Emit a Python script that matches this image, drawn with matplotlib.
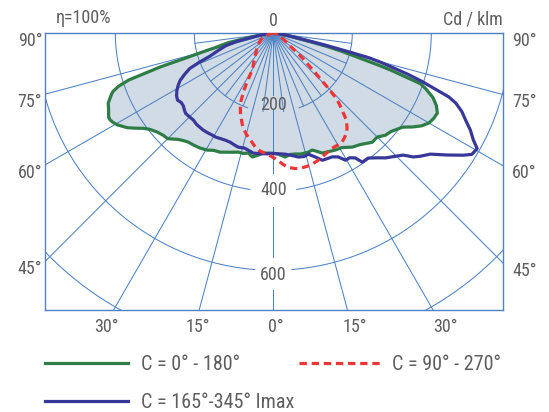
import numpy as np
import matplotlib
matplotlib.use("Agg")
import matplotlib.pyplot as plt
from matplotlib import font_manager

# gamma angle (deg, negative = left half) and luminous intensity (cd/klm)
c0_gamma = [-90, -85, -80, -78, -76, -75, -74, -73.3, -72, -71,
            -70, -69, -67, -65, -63, -62, -61, -59.5, -57, -55,
            -53.8, -52, -49.5, -47, -45, -42, -40, -38, -35.5, -32.4,
            -29.4, -27, -24, -22, -19, -16.4, -14, -11.8, -9.6, -7,
            -5, -3, 0, 2, 5.5, 8, 10.3, 13, 16.4, 18.4,
            20, 22.2, 25, 27.9, 31, 34.7, 38, 42.2, 45, 47.7,
            50, 52, 54, 56, 58, 60, 62, 64, 66, 68,
            70, 71, 72.5, 73, 74, 75, 76, 77, 80, 85, 90]
c0_cd = [0, 15, 50, 115, 150, 185, 235, 299, 385, 415,
         432, 440, 454, 460, 468, 468, 465, 458, 440, 420,
         408, 396, 386, 380, 378, 362, 355, 350, 348, 345,
         340, 333, 330, 325, 319, 314, 314, 310, 318, 311,
         305, 304, 304, 306, 315, 310, 311, 314, 314, 312,
         318, 328, 331, 335, 338, 351, 358, 373, 372, 384,
         388, 396, 405, 425, 443, 455, 460, 462, 452, 436,
         410, 394, 311, 280, 220, 180, 140, 100, 35, 8, 0]

c165_gamma = [-90, -85, -80, -77, -75, -72, -70, -68.5, -67, -65,
              -63, -61, -59, -57, -55, -53, -51, -49, -47.5, -45,
              -42.6, -40, -36, -33, -31, -29, -27, -24, -21.5, -19,
              -17, -14, -11, -9.5, -6, -3, 0, 3, 5.7, 8,
              11.4, 14, 16.1, 18.7, 21.1, 23.7, 25.5, 27.7, 29.6, 31.5,
              33.3, 34.6, 37.2, 40, 42, 44, 46.8, 48.5, 50, 52.4,
              55, 57.3, 58.6, 60.5, 61.9, 63.8, 65.5, 67.4, 69, 70,
              72, 73, 74, 74.8, 75.5, 76, 77, 80, 85, 90]
c165_cd = [0, 10, 40, 95, 125, 150, 170, 200, 230, 248,
           265, 276, 285, 292, 296, 292, 293, 298, 301, 300,
           299, 302, 303, 302, 301, 301, 299, 297, 297, 300,
           302, 300, 305, 308, 307, 306, 305, 306, 308, 312,
           320, 322, 319, 331, 345, 346, 347, 354, 370, 370,
           378, 397, 397, 412, 425, 435, 451, 473, 485, 502,
           538, 572, 589, 593, 574, 556, 536, 517, 495, 473,
           395, 355, 310, 281, 250, 200, 130, 40, 10, 0]

c90_gamma = [-90, -80, -70, -63, -55, -50, -45, -40, -36, -33,
             -30, -29, -28, -27, -25.5, -24, -22, -20, -18, -15,
             -12, -9, -7, -4, -2, 0, 2, 4, 6, 9,
             11, 14, 16.5, 19, 21.5, 24, 27, 30, 32, 34,
             36.5, 38, 40, 41.5, 43, 44, 45, 46, 47, 48.5,
             50.5, 52, 55, 60, 70, 80, 90]
c90_cd = [0, 5, 20, 35, 44, 52, 60, 70, 80, 92,
          105, 120, 145, 165, 190, 205, 222, 235, 250, 265,
          277, 292, 299, 305, 309, 315, 322, 332, 341, 347,
          349, 348, 346, 342, 337, 332, 327, 327, 327, 321,
          313, 303, 288, 265, 245, 228, 193, 160, 135, 110,
          80, 55, 40, 25, 10, 4, 0]

rings = [200, 400, 600, 800]
ring_labels = [200, 400, 600]
side_ticks = [90, 75, 60, 45]
bottom_ticks = [-30, -15, 0, 15, 30]
legend_labels = ['C = 0° - 180°', 'C = 90° - 270°', 'C = 165°-345° Imax']

GREEN = '#2e7d46'
BLUE = '#38389a'
RED = '#ef3535'
GRID = '#4f82c4'
FILL = '#d0dbe5'
TXT = '#5e5e5e'

installed = {f.name for f in font_manager.fontManager.ttflist}
font = next((f for f in ['Liberation Sans Narrow', 'Roboto Condensed', 'Roboto', 'Open Sans']
             if f in installed), 'DejaVu Sans')
plt.rcParams['font.family'] = [font, 'DejaVu Sans']
FS = 13 if ('Narrow' in font or 'Condensed' in font) else 11.5
FS_LEG = FS + 1.5


def polar_xy(gamma, cd):
    g = np.radians(np.asarray(gamma, dtype=float))
    r = np.asarray(cd, dtype=float)
    return r * np.sin(g), -r * np.cos(g)


W, H = 549, 412
fig = plt.figure(figsize=(W / 100, H / 100), dpi=100)
ax = fig.add_axes([45 / W, 1 - 310 / H, 458 / W, 277 / H])
XL, XR, YB = -578, 581.5, -700.5
ax.set_xlim(XL, XR)
ax.set_ylim(YB, 0)
ax.set_xticks([])
ax.set_yticks([])
for s in ax.spines.values():
    s.set_color(GRID)
    s.set_linewidth(1.0)

# polar grid
grid_kw = dict(color=GRID, lw=0.75, zorder=2)
ring_gap = {200: 19, 400: 8.5, 600: 4.5}
for ring in rings:
    gap = ring_gap.get(ring, 0)
    for lo, hi in [(-90, -gap), (gap, 90)]:
        x, y = polar_xy(np.linspace(lo, hi, 200), np.full(200, ring))
        ax.plot(x, y, **grid_kw)

for a in np.arange(-90, 90.1, 7.5):
    if a % 15:
        spans = [(0, 200)]
    elif a == 0:
        spans = [(0, 156), (195, 355), (440, 566), (650, 1000)]
    else:
        spans = [(0, 1000)]
    for r0, r1 in spans:
        x, y = polar_xy([a, a], [r0, r1])
        ax.plot(x, y, **grid_kw)

# curves
x0, y0 = polar_xy(c0_gamma, c0_cd)
ax.fill(x0, y0, color=FILL, lw=0, zorder=1)
ax.plot(x0, y0, color=GREEN, lw=2.3, zorder=3, solid_joinstyle='round')
x1, y1 = polar_xy(c165_gamma, c165_cd)
ax.plot(x1, y1, color=BLUE, lw=2.3, zorder=4, solid_joinstyle='round')
x2, y2 = polar_xy(c90_gamma, c90_cd)
ax.plot(x2, y2, color=RED, lw=2.3, dashes=(2.3, 1.5), zorder=5)

txt = dict(color=TXT, fontsize=FS, textcoords='offset points', annotation_clip=False)

lab_shift = {200: 5, 400: 1, 600: -3.6}
for v in ring_labels:
    ax.annotate(str(v), (0, -v), xytext=(0, lab_shift[v]), ha='center', va='center', **txt)

for g in side_ticks:
    t = np.tan(np.radians(g))
    ax.annotate(f'{g}°', (XL, XL / t), xytext=(-2, -5.5), ha='right', va='center', **txt)
    ax.annotate(f'{g}°', (XR, -XR / t), xytext=(6.5, -5.5), ha='left', va='center', **txt)

YT = -743.5
for g in bottom_ticks:
    ax.annotate(f'{abs(g)}°', (-YT * np.tan(np.radians(g)), YT), xytext=(2, 0),
                ha='center', va='center', **txt)

ax.annotate('0', (0, 0), xytext=(0, 8.6), ha='center', va='center', **txt)
ax.annotate('η=100%', (0, 1), xycoords='axes fraction', xytext=(7.5, 11),
            ha='left', va='center', **txt)
ax.annotate('Cd / klm', (1, 1), xycoords='axes fraction', xytext=(0, 9.5),
            ha='right', va='center', **txt)

# legend
lax = fig.add_axes([0, 0, 1, 1])
lax.set_xlim(0, W)
lax.set_ylim(H, 0)
lax.axis('off')
lax.plot([45, 128], [363, 363], color=GREEN, lw=2.3)
lax.text(141, 364, legend_labels[0], color=TXT, fontsize=FS_LEG, va='center')
lax.plot([299, 382], [363, 363], color=RED, lw=2.3, dashes=(2.3, 1.5))
lax.text(392, 364, legend_labels[1], color=TXT, fontsize=FS_LEG, va='center')
lax.plot([45, 128], [401, 401], color=BLUE, lw=2.3)
lax.text(141, 402, legend_labels[2], color=TXT, fontsize=FS_LEG, va='center')

fig.savefig('out.png', dpi=100)
